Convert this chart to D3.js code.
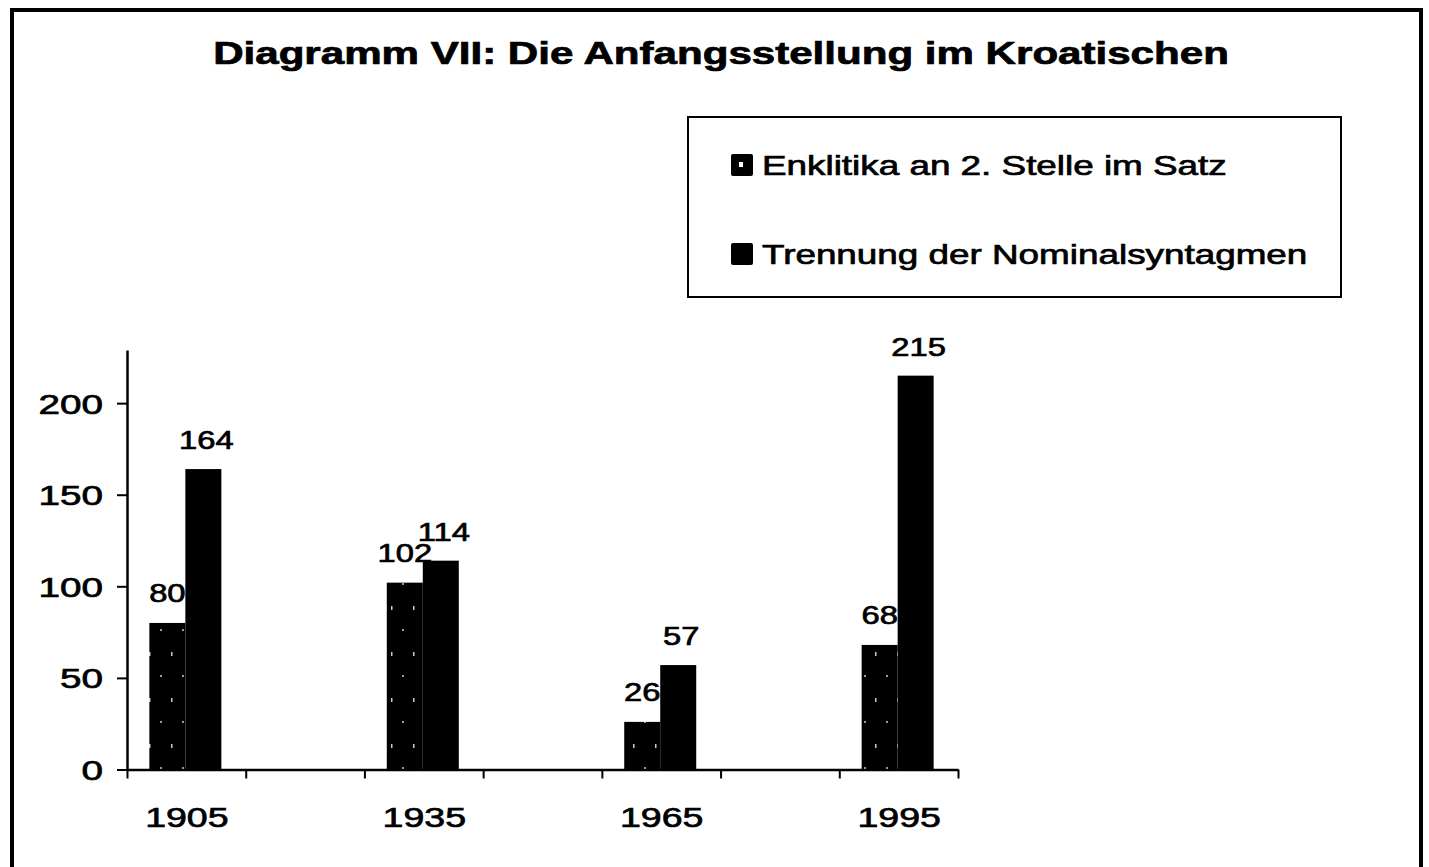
<!DOCTYPE html>
<html>
<head>
<meta charset="utf-8">
<script src="https://cdn.jsdelivr.net/npm/d3@7"></script>
<style>
  body { margin: 0; background: #fff; }
  text { font-family: "Liberation Sans", Arial, sans-serif; fill: #000; stroke: #000; stroke-width: 0.7px; }
</style>
</head>
<body>
<script>
// data
var years = [1905, 1935, 1965, 1995];
var enklitika = [80, 102, 26, 68];
var trennung = [164, 114, 57, 215];
var yTicks = [0, 50, 100, 150, 200];
var seriesNames = ["Enklitika an 2. Stelle im Satz", "Trennung der Nominalsyntagmen"];
var title = "Diagramm VII: Die Anfangsstellung im Kroatischen";

var W = 1429, H = 867;
var sx = 1.34; // the scan is stretched sideways, so is the text

var svg = d3.select("body")
    .append("svg")
    .attr("width", W)
    .attr("height", H);

// near-black with a few specks for the first series
var defs = svg.append("defs");
var pat = defs.append("pattern")
    .attr("id", "speckle")
    .attr("patternUnits", "userSpaceOnUse")
    .attr("width", 22).attr("height", 46);
pat.append("rect").attr("width", 22).attr("height", 46).attr("fill", "#000");
pat.append("rect").attr("x", 17).attr("y", 8).attr("width", 1.5).attr("height", 4).attr("fill", "#fff").attr("opacity", 0.8);
pat.append("rect").attr("x", 6).attr("y", 31).attr("width", 2).attr("height", 2).attr("fill", "#fff").attr("opacity", 0.6);

// outer frame
svg.append("rect")
    .attr("x", 12).attr("y", 10)
    .attr("width", 1409).attr("height", 900)
    .attr("fill", "none")
    .attr("stroke", "#000")
    .attr("stroke-width", 4);

function place(sel, x, y, s) {
    return sel.attr("transform", "translate(" + x + "," + y + ") scale(" + (s || sx) + ",1)");
}

// title
place(svg.append("text"), 721, 64, 1.38)
    .attr("text-anchor", "middle")
    .style("font-size", "30.5px")
    .style("font-weight", "bold")
    .text(title);

// scales
var x = d3.scaleLinear()
    .domain([1897.5, 2002.5])
    .range([127, 958]);

var y = d3.scaleLinear()
    .domain([0, 229])
    .range([769.5, 350]);

var barW = 36;

// y axis
var yAxis = svg.append("g")
    .attr("transform", "translate(127,0)")
    .call(d3.axisLeft(y).tickValues(yTicks).tickSize(10).tickSizeOuter(0));
yAxis.select(".domain").attr("stroke-width", 2.5);
yAxis.selectAll(".tick line").attr("stroke-width", 2);
yAxis.selectAll(".tick text")
    .attr("x", -24 / 1.38)
    .attr("dy", "0.36em")
    .attr("transform", "scale(1.38,1)")
    .style("font-size", "28px")
    .style("font-family", "'Liberation Sans', Arial, sans-serif");

// x axis: tick marks between the half slots
var xAxis = svg.append("g")
    .attr("transform", "translate(0," + y(0) + ")")
    .call(d3.axisBottom(x)
        .tickValues(d3.range(1897.5, 2003, 15))
        .tickSize(9).tickSizeOuter(0)
        .tickFormat(""));
xAxis.select(".domain").attr("stroke-width", 2.5);
xAxis.selectAll(".tick line").attr("stroke-width", 2);

// x labels
var xLab = svg.append("g")
    .attr("transform", "translate(0," + y(0) + ")")
    .call(d3.axisBottom(x).tickValues(years).tickSize(0).tickFormat(d3.format("d")));
xLab.select(".domain").remove();
xLab.selectAll(".tick text")
    .attr("y", 58)
    .attr("dy", 0)
    .attr("transform", "scale(" + sx + ",1)")
    .style("font-size", "28px")
    .style("font-family", "'Liberation Sans', Arial, sans-serif");

// series 1 bars and labels (labels end up partly under series 2 bars)
svg.append("g")
    .selectAll("rect")
    .data(enklitika)
    .enter()
    .append("rect")
    .attr("x", function (d, i) { return x(years[i]) - barW - 1; })
    .attr("y", function (d) { return y(d); })
    .attr("width", barW)
    .attr("height", function (d) { return y(0) - y(d); })
    .attr("fill", "url(#speckle)");

svg.append("g")
    .selectAll("text")
    .data(enklitika)
    .enter()
    .append("text")
    .attr("text-anchor", "middle")
    .style("font-size", "26px")
    .attr("transform", function (d, i) {
        return "translate(" + (x(years[i]) - barW / 2 - 1) + "," + (y(d) - 21) + ") scale(1.26,1)";
    })
    .text(function (d) { return d; });

svg.append("g")
    .selectAll("rect")
    .data(trennung)
    .enter()
    .append("rect")
    .attr("x", function (d, i) { return x(years[i]) - 1; })
    .attr("y", function (d) { return y(d); })
    .attr("width", barW)
    .attr("height", function (d) { return y(0) - y(d); })
    .attr("fill", "#000");

svg.append("g")
    .selectAll("text")
    .data(trennung)
    .enter()
    .append("text")
    .attr("text-anchor", "middle")
    .style("font-size", "26px")
    .attr("transform", function (d, i) {
        return "translate(" + (x(years[i]) + barW / 2 + 2) + "," + (y(d) - 20) + ") scale(1.26,1)";
    })
    .text(function (d) { return d; });

// legend
var legend = svg.append("g");
legend.append("rect")
    .attr("x", 688).attr("y", 117)
    .attr("width", 653).attr("height", 180)
    .attr("fill", "#fff")
    .attr("stroke", "#000")
    .attr("stroke-width", 2);

var fills = ["#000", "#000"];
var entry = legend.selectAll("g.entry")
    .data(seriesNames)
    .enter()
    .append("g")
    .attr("class", "entry")
    .attr("transform", function (d, i) { return "translate(0," + (165 + i * 89) + ")"; });

entry.append("rect")
    .attr("x", 731).attr("y", -11)
    .attr("width", 22).attr("height", 22)
    .attr("rx", 2)
    .attr("fill", function (d, i) { return fills[i]; });

// small light fleck in the first marker
legend.append("rect")
    .attr("x", 739).attr("y", 162)
    .attr("width", 4).attr("height", 5)
    .attr("fill", "#fff");

entry.append("text")
    .attr("transform", "translate(762,10) scale(" + sx + ",1)")
    .style("font-size", "27.5px")
    .text(function (d) { return d; });
</script>
</body>
</html>
